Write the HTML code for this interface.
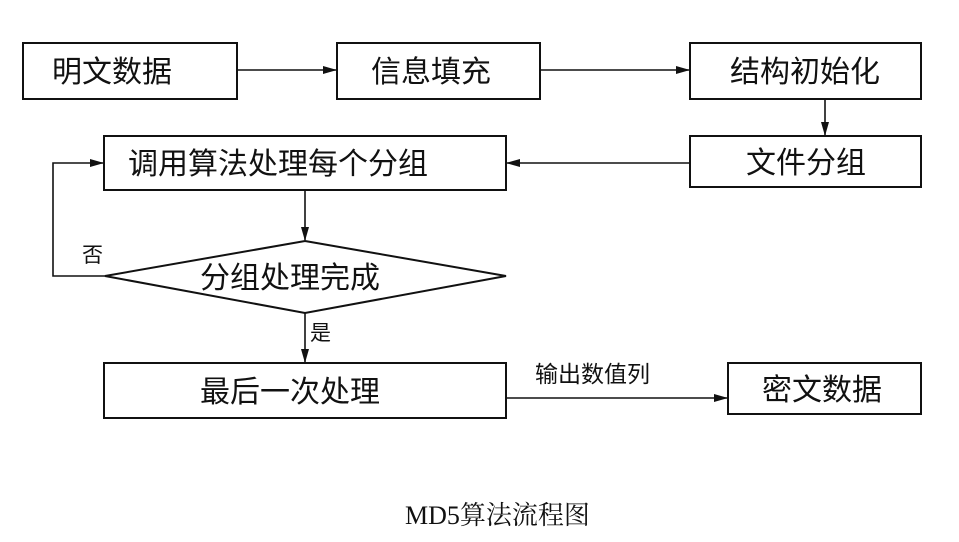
<!DOCTYPE html>
<html><head><meta charset="utf-8"><style>
html,body{margin:0;padding:0;background:#fff;}
svg{display:block;}
text{font-family:"Liberation Sans","Noto Sans CJK SC",sans-serif;fill:#111;}
</style></head><body>
<svg width="959" height="542" viewBox="0 0 959 542" xmlns="http://www.w3.org/2000/svg">
<defs><marker id="a" markerWidth="14" markerHeight="10" refX="13" refY="5" orient="auto" markerUnits="userSpaceOnUse"><path d="M0,1 L14,5 L0,9 Z" fill="#111"/></marker></defs>
<g fill="none" stroke="#111" stroke-width="2">
<rect x="23" y="43" width="214" height="56"/>
<rect x="337" y="43" width="203" height="56"/>
<rect x="690" y="43" width="231" height="56"/>
<rect x="690" y="136" width="231" height="51"/>
<rect x="104" y="136" width="402" height="54"/>
<polygon points="305,241 506,276 305,313 105,276"/>
<rect x="104" y="363" width="402" height="55"/>
<rect x="728" y="363" width="193" height="51"/>
<g stroke-width="1.6">
<line x1="237" y1="70" x2="336" y2="70" marker-end="url(#a)"/>
<line x1="540" y1="70" x2="689" y2="70" marker-end="url(#a)"/>
<line x1="825" y1="99" x2="825" y2="135" marker-end="url(#a)"/>
<line x1="690" y1="163" x2="507" y2="163" marker-end="url(#a)"/>
<line x1="305" y1="190" x2="305" y2="240" marker-end="url(#a)"/>
<line x1="305" y1="313" x2="305" y2="362" marker-end="url(#a)"/>
<polyline points="105,276 53,276 53,163 103,163" marker-end="url(#a)"/>
<line x1="506" y1="398" x2="727" y2="398" marker-end="url(#a)"/>
</g>
</g>
<g font-size="30">
<text x="52" y="82">明文数据</text>
<text x="371" y="82">信息填充</text>
<text x="730" y="82">结构初始化</text>
<text x="746" y="173">文件分组</text>
<text x="128" y="174">调用算法处理每个分组</text>
<text x="200" y="288">分组处理完成</text>
<text x="200" y="402">最后一次处理</text>
<text x="762" y="400">密文数据</text>
</g>
<text x="82" y="262" font-size="21">否</text>
<text x="310" y="340" font-size="21">是</text>
<text x="535" y="382" font-size="23">输出数值列</text>
<text x="405" y="524" font-size="26" style="font-family:'Liberation Serif','Noto Serif CJK SC',serif">MD5算法流程图</text>
</svg>
</body></html>
